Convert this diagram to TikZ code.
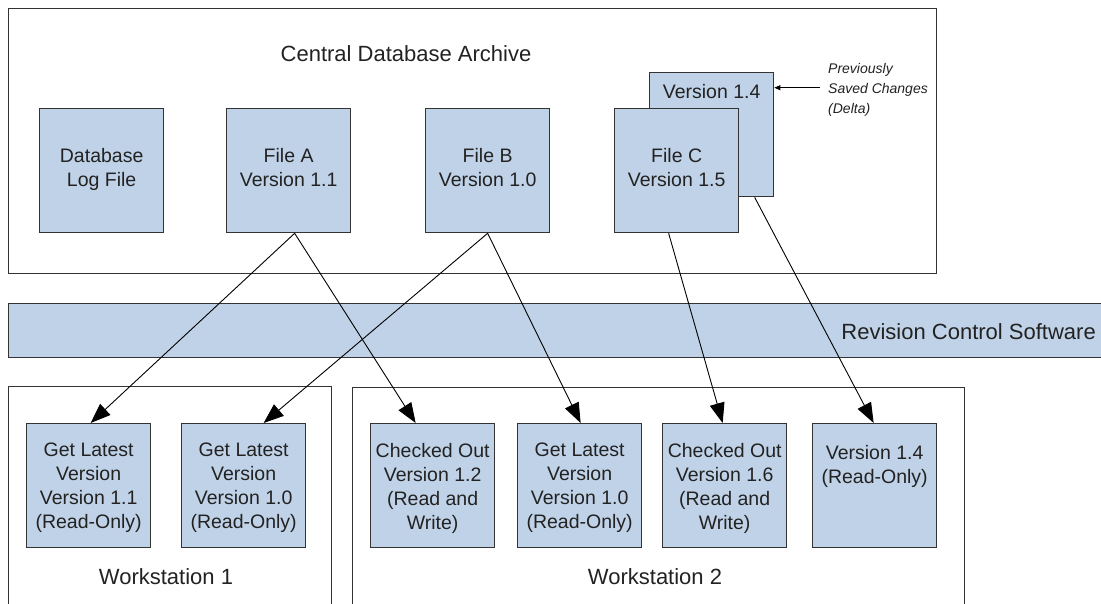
\documentclass[tikz,border=0pt]{standalone}
\usepackage{fontspec}
\setmainfont{Liberation Sans}
\usetikzlibrary{arrows.meta,calc}
\definecolor{boxfill}{RGB}{192,210,231}
\definecolor{edge}{RGB}{51,51,51}
\definecolor{ink}{RGB}{34,34,34}
\begin{document}
\begin{tikzpicture}[x=1pt,y=-1pt,
 frame/.style={draw=edge, line width=1.3pt, inner sep=0pt, anchor=north west},
 band/.style={draw=edge, line width=1.3pt, fill=boxfill, inner sep=0pt, anchor=north west},
 filebox/.style={draw=edge, line width=1.3pt, fill=boxfill, minimum width=124pt, minimum height=124pt, inner sep=0pt, anchor=north west},
 boxtext/.style={font=\fontsize{19.5}{24}\selectfont, align=center, anchor=north, inner sep=0pt, text=ink},
 biglabel/.style={font=\fontsize{22}{26}\selectfont, inner sep=0pt, text=ink},
 notetext/.style={font=\itshape\fontsize{14}{20}\selectfont, align=left, anchor=north west, inner sep=0pt, text=ink},
 flow/.style={draw=black, line width=0.9pt, -{Triangle[length=20pt,width=15pt]}},
 deltaarrow/.style={draw=black, line width=0.9pt, -{Triangle[length=6pt,width=5pt]}},
]
\useasboundingbox (0,0) rectangle (1101,604);

% containers
\node[frame, minimum width=928pt, minimum height=265pt] (archive) at (8,8) {};
\node[band, minimum width=1110pt, minimum height=54pt] (rcs) at (8,303) {};
\node[frame, minimum width=323pt, minimum height=240pt] (ws1) at (8,386) {};
\node[frame, minimum width=612pt, minimum height=240pt] (ws2) at (352,387) {};

% labels
\node[biglabel] (title) at (406,54) {Central Database Archive};
\node[biglabel, anchor=east] (rcslabel) at (1096,332) {Revision Control Software};
\node[biglabel] (ws1label) at (166,577) {Workstation 1};
\node[biglabel] (ws2label) at (655,577) {Workstation 2};

% archive boxes
\node[filebox] (log) at (39,108) {};
\node[filebox] (fa) at (226,108) {};
\node[filebox] (fb) at (425,108) {};
\node[filebox] (vdelta) at (649,72) {};
\node[filebox] (fc) at (614,108) {};

\node[boxtext] (logt) at ($(log.north)+(0,40)$) {Database\\Log File};
\node[boxtext] (fat) at ($(fa.north)+(0,40)$) {File A\\Version 1.1};
\node[boxtext] (fbt) at ($(fb.north)+(0,40)$) {File B\\Version 1.0};
\node[boxtext] (vdeltat) at ($(vdelta.north)+(0,12)$) {Version 1.4};
\node[boxtext] (fct) at ($(fc.north)+(0,40)$) {File C\\Version 1.5};

\node[notetext] (note) at (828,63) {Previously\\Saved Changes\\(Delta)};
\draw[deltaarrow] ([xshift=-8pt,yshift=2pt]note.west) -- ([yshift=2pt]note.west -| vdelta.east);

% workstation boxes
\node[filebox] (w1a) at (26,423) {};
\node[filebox] (w1b) at (181,423) {};
\node[filebox] (w2a) at (370,423) {};
\node[filebox] (w2b) at (517,423) {};
\node[filebox] (w2c) at (662,423) {};
\node[filebox] (w2d) at (812,423) {};

\node[boxtext] (w1at) at ($(w1a.north)+(0,20)$) {Get Latest\\Version\\Version 1.1\\(Read-Only)};
\node[boxtext] (w1bt) at ($(w1b.north)+(0,20)$) {Get Latest\\Version\\Version 1.0\\(Read-Only)};
\node[boxtext] (w2at) at ($(w2a.north)+(0,20)$) {Checked Out\\Version 1.2\\(Read and\\Write)};
\node[boxtext] (w2bt) at ($(w2b.north)+(0,20)$) {Get Latest\\Version\\Version 1.0\\(Read-Only)};
\node[boxtext] (w2ct) at ($(w2c.north)+(0,20)$) {Checked Out\\Version 1.6\\(Read and\\Write)};
\node[boxtext] (w2dt) at ($(w2d.north)+(0,22)$) {Version 1.4\\(Read-Only)};

% connectors
\draw[flow] ([xshift=6pt]fa.south) -- ([xshift=2pt]w1a.north);
\draw[flow] ([xshift=6pt]fa.south) -- ([xshift=-17pt]w2a.north);
\draw[flow] (fb.south) -- ([xshift=20pt]w1b.north);
\draw[flow] (fb.south) -- ([xshift=1pt]w2b.north);
\draw[flow] ([xshift=-8pt]fc.south) -- ([xshift=-2pt]w2c.north);
\draw[flow] ([xshift=43pt]vdelta.south) -- ([xshift=-1pt]w2d.north);
\end{tikzpicture}
\end{document}
